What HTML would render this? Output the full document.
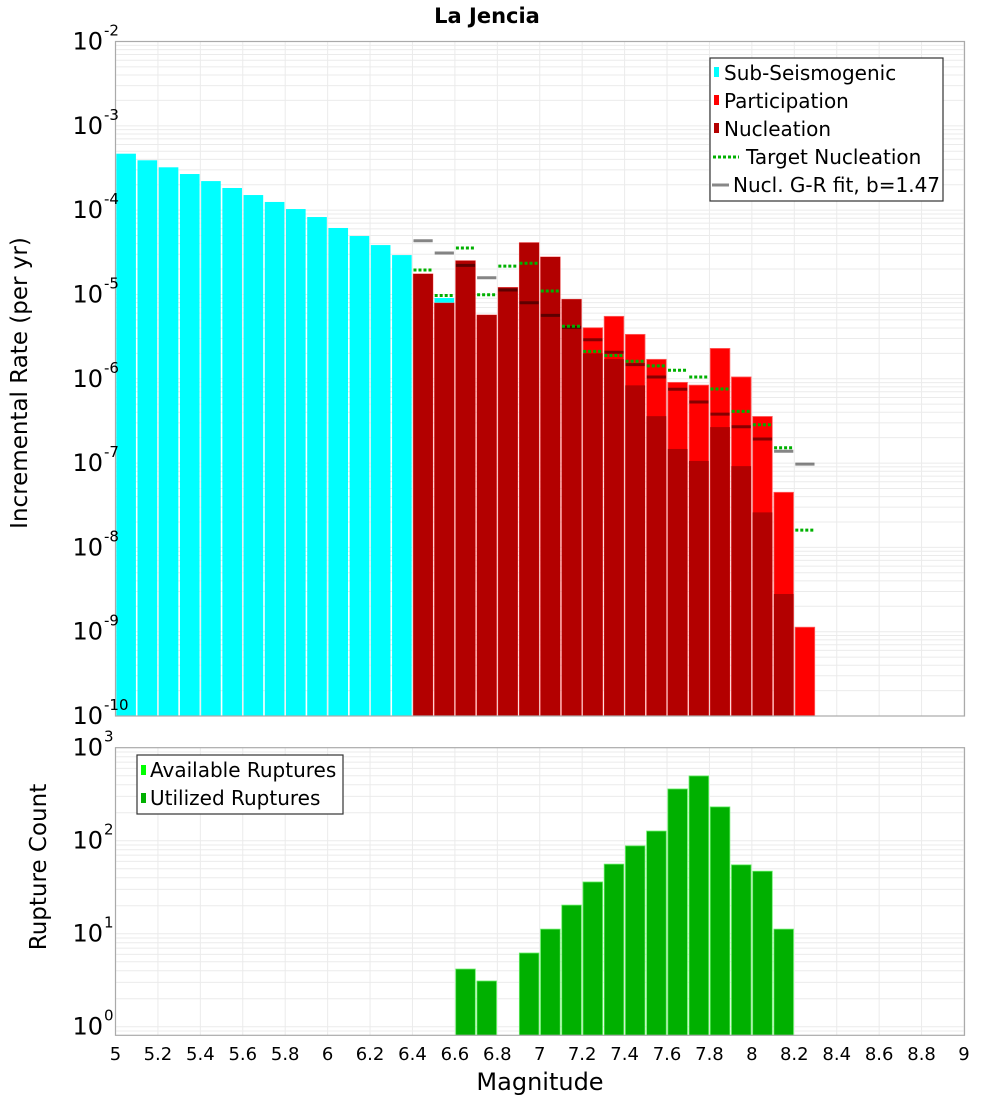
<!DOCTYPE html>
<html><head><meta charset="utf-8"><style>
body{margin:0;background:#fff;}
svg{display:block;font-family:"DejaVu Sans","Liberation Sans",sans-serif;}
</style></head><body>
<svg id="chart" width="1000" height="1100" viewBox="0 0 1000 1100" xmlns="http://www.w3.org/2000/svg">
<text x="487" y="23" font-size="21" font-weight="bold" text-anchor="middle">La Jencia</text>
<g id="topPlot"></g>
<g id="botPlot"></g>
<text transform="translate(27,383) rotate(-90)" font-size="23" text-anchor="middle">Incremental Rate (per yr)</text>
<text transform="translate(46,867) rotate(-90)" font-size="23" text-anchor="middle">Rupture Count</text>
<text x="540" y="1090" font-size="24" text-anchor="middle">Magnitude</text>
<g id="legendTop">
<rect x="710" y="58" width="233" height="143" fill="#fff" stroke="#333" stroke-width="1.2"/>
<rect x="714" y="67" width="5" height="10" fill="#00ffff"/>
<text x="724" y="80" font-size="20">Sub-Seismogenic</text>
<rect x="714" y="95" width="5" height="10" fill="#ff0000"/>
<text x="724" y="108" font-size="20">Participation</text>
<rect x="714" y="123" width="5" height="10" fill="#b30000"/>
<text x="724" y="136" font-size="20">Nucleation</text>
<line x1="713" y1="157" x2="739" y2="157" stroke="#00b000" stroke-width="3" stroke-dasharray="3,2"/>
<text x="746" y="164" font-size="20">Target Nucleation</text>
<line x1="712" y1="185" x2="729" y2="185" stroke="#888" stroke-width="3"/>
<text x="733" y="192" font-size="20">Nucl. G-R fit, b=1.47</text>
</g>
<g id="legendBot">
<rect x="137" y="755" width="206" height="59" fill="#fff" stroke="#333" stroke-width="1.2"/>
<rect x="141" y="765" width="5" height="10" fill="#00ff00"/>
<text x="150" y="777" font-size="20">Available Ruptures</text>
<rect x="141" y="793" width="5" height="10" fill="#00b000"/>
<text x="150" y="805" font-size="20">Utilized Ruptures</text>
</g>
</svg>
<script>
// ---- data ----
const subMags = [5.0,5.1,5.2,5.3,5.4,5.5,5.6,5.7,5.8,5.9,6.0,6.1,6.2,6.3,6.5];
const subRates = [4.67e-4,3.9e-4,3.22e-4,2.68e-4,2.21e-4,1.83e-4,1.51e-4,1.25e-4,1.03e-4,8.28e-5,6.14e-5,4.93e-5,3.85e-5,2.93e-5,9.06e-6];
const faultMags = [6.4,6.5,6.6,6.7,6.8,6.9,7.0,7.1,7.2,7.3,7.4,7.5,7.6,7.7,7.8,7.9,8.0,8.1,8.2];
const partRates = [1.75e-5,7.9e-6,2.51e-5,5.7e-6,1.21e-5,4.11e-5,2.78e-5,8.75e-6,4.03e-6,5.5e-6,3.36e-6,1.7e-6,9.06e-7,8.4e-7,2.29e-6,1.05e-6,3.57e-7,4.5e-8,1.13e-9];
const nuclRates = [1.75e-5,7.9e-6,2.51e-5,5.7e-6,1.21e-5,4.11e-5,2.78e-5,8.75e-6,2.0e-6,1.71e-6,8.35e-7,3.6e-7,1.47e-7,1.06e-7,2.67e-7,9.2e-8,2.6e-8,2.8e-9,0];
const targetRates = [1.95e-5,9.7e-6,3.55e-5,9.9e-6,2.17e-5,2.34e-5,1.1e-5,4.2e-6,2.11e-6,1.89e-6,1.61e-6,1.42e-6,1.26e-6,1.05e-6,7.55e-7,4.1e-7,2.85e-7,1.52e-7,1.6e-8];
const grRates = [4.34e-5,3.1e-5,2.21e-5,1.58e-5,1.13e-5,7.98e-6,5.65e-6,4.07e-6,2.9e-6,2.06e-6,1.47e-6,1.05e-6,7.5e-7,5.3e-7,3.8e-7,2.7e-7,1.93e-7,1.38e-7,9.7e-8];
const countMags = [6.6,6.7,6.9,7.0,7.1,7.2,7.3,7.4,7.5,7.6,7.7,7.8,7.9,8.0,8.1];
const countVals = [4.17,3.1,6.2,11.2,20.3,36,56,88,127,360,497,231,55,47,11.2];
const xTicks = ["5","5.2","5.4","5.6","5.8","6","6.2","6.4","6.6","6.8","7","7.2","7.4","7.6","7.8","8","8.2","8.4","8.6","8.8","9"];
const topExps = [-2,-3,-4,-5,-6,-7,-8,-9,-10];
const botExps = [3,2,1,0];

// ---- axes ----
const X0=115.5, X1=964, PL=115.5, PR=964.5;
const xS = m => X0 + (m-5)*(X1-X0)/4;
const T_TOP=41.5, T_BOT=716, yT = v => T_TOP + (-2 - Math.log10(v))*(T_BOT-T_TOP)/8;
const B_TOP=747.7, B_BOT=1035.3, yB = v => B_TOP + (3 - Math.log10(v))*93;
const NS="http://www.w3.org/2000/svg";
function mk(parent,tag,attrs){const e=document.createElementNS(NS,tag);for(const k in attrs)e.setAttribute(k,attrs[k]);parent.appendChild(e);return e;}
const topG=document.getElementById('topPlot'), botG=document.getElementById('botPlot'), svgEl=document.getElementById('chart');
const legTop=document.getElementById('legendTop'), legBot=document.getElementById('legendBot');

function grid(g,ytop,ybot,yf,lo,hi){
  mk(g,'rect',{x:PL,y:ytop,width:PR-PL,height:ybot-ytop,fill:'#fff'});
  for(let e=lo;e<hi;e++){for(let k=1;k<10;k++){const v=k*Math.pow(10,e);const y=yf(v);if(y<ytop||y>ybot)continue;
    const l=mk(g,'line',{x1:PL,x2:PR,y1:y,y2:y,stroke:'#ebebeb','stroke-width':1});
    
    }}
  xTicks.forEach(t=>{const x=xS(parseFloat(t));
    const l=mk(g,'line',{x1:x,x2:x,y1:ytop,y2:ybot,stroke:'#ebebeb','stroke-width':1});
    
    });
}
grid(topG,T_TOP,T_BOT,yT,-11,-1);
grid(botG,B_TOP,B_BOT,yB,-1,3);

const BW=(X1-X0)/40;
function bar(g,m,v,y0f,ybot,fill,name,stroke){
  if(!(v>0))return;
  const x=xS(m)+0.8, y=Math.max(y0f(v),0);
  const r=mk(g,'rect',{x:x,y:y,width:BW-1.6,height:ybot-y,fill:fill});
  if(stroke){r.setAttribute('stroke',stroke);r.setAttribute('stroke-width','0.8');}
  
  
}
subMags.forEach((m,i)=>bar(topG,m,subRates[i],yT,T_BOT,'#00ffff','bar-sub-seismogenic'));
faultMags.forEach((m,i)=>bar(topG,m,partRates[i],yT,T_BOT,'#ff0000','bar-participation','#ff6060'));
faultMags.forEach((m,i)=>bar(topG,m,nuclRates[i],yT,T_BOT,'#b30000','bar-nucleation'));
faultMags.forEach((m,i)=>{const y=yT(grRates[i]);
  const l=mk(topG,'line',{x1:xS(m)+1,x2:xS(m)+BW-1,y1:y,y2:y,stroke:'#000','stroke-opacity':0.48,'stroke-width':3});
  
  });
faultMags.forEach((m,i)=>{const y=yT(targetRates[i]);
  const l=mk(topG,'line',{x1:xS(m)+1,x2:xS(m)+BW-1,y1:y,y2:y,stroke:'#00b000','stroke-width':3,'stroke-dasharray':'3,2'});
  
  });
countMags.forEach((m,i)=>bar(botG,m,countVals[i],yB,B_BOT,'#00b000','bar-utilized-ruptures','#66ee66'));

// frames
[[T_TOP,T_BOT],[B_TOP,B_BOT]].forEach(([a,b],i)=>{
  const r=mk(svgEl,'rect',{x:PL,y:a,width:PR-PL,height:b-a,fill:'none',stroke:'#aaa','stroke-width':1.2});
  
  
});
// keep legends above plots
svgEl.appendChild(legTop);
svgEl.appendChild(legBot);

// tick labels
function ylab(e,y,name){
  const t=mk(svgEl,'text',{x:103,y:y+8,'font-size':24,'text-anchor':'end'});t.textContent='10';
  
  
  const s=mk(svgEl,'text',{x:104,y:y-6,'font-size':15});s.textContent=String(e);
  
  
}
topExps.forEach(e=>ylab(e,yT(Math.pow(10,e)),'y-tick-rate'));
botExps.forEach(e=>ylab(e,yB(Math.pow(10,e)),'y-tick-count'));
xTicks.forEach(t=>{const x=xS(parseFloat(t));
  const el=mk(svgEl,'text',{x:x,y:1060,'font-size':18,'text-anchor':'middle'});el.textContent=t;
  
  });
</script>
</body></html>
